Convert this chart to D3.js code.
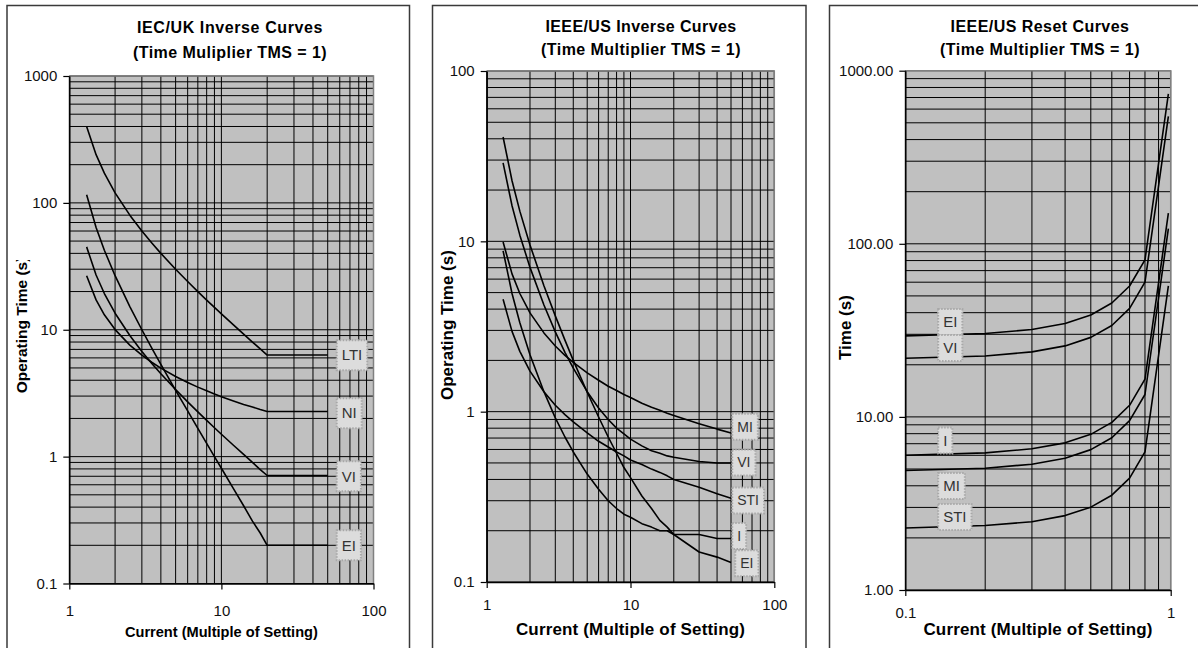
<!DOCTYPE html>
<html><head><meta charset="utf-8">
<script src="https://cdn.jsdelivr.net/npm/d3@7"></script>
<style>html,body{margin:0;padding:0;background:#fff;} svg{display:block;}</style>
</head><body>
<script>
// ---------------- data ----------------
// IEC/UK inverse curves (TMS = 1)
const iecCurrent = [1.3,1.5,1.7,2,2.5,3,3.5,4,5,6,7,8,9,10,12,14,16,18,20,30,40,50];
const iecNames = ["LTI","NI","VI","EI"];
const iecLTI = [400,240,171.4,120,80,60,48,40,30,24,20,17.14,15,13.33,10.91,9.23,8,7.06,6.32,6.32,6.32,6.32];
const iecNI  = [26.61,17.19,13.12,10.03,7.57,6.30,5.52,4.98,4.28,3.84,3.53,3.30,3.12,2.97,2.75,2.58,2.46,2.35,2.27,2.27,2.27,2.27];
const iecVI  = [45,27,19.29,13.5,9,6.75,5.4,4.5,3.38,2.7,2.25,1.93,1.69,1.5,1.23,1.04,0.9,0.79,0.71,0.71,0.71,0.71];
const iecEI  = [115.9,64,42.33,26.67,15.24,10,7.11,5.33,3.33,2.29,1.67,1.27,1.0,0.81,0.56,0.41,0.31,0.25,0.2,0.2,0.2,0.2];

// IEEE/US inverse curves (TMS = 1)
const ieeeCurrent = [1.3,1.5,1.7,2,2.5,3,3.5,4,5,6,7,8,9,10,12,14,16,18,20,30,40,50];
const ieeeNames = ["MI","VI","STI","I","EI"];
const ieeeMI  = [9.90,6.44,4.94,3.80,2.90,2.43,2.14,1.95,1.69,1.53,1.41,1.33,1.26,1.21,1.12,1.06,1.02,0.98,0.95,0.85,0.79,0.75];
const ieeeVI  = [28.91,16.18,10.87,7.03,4.23,2.94,2.23,1.80,1.31,1.05,0.90,0.80,0.74,0.69,0.63,0.59,0.57,0.55,0.54,0.51,0.50,0.50];
const ieeeSTI = [4.57,2.96,2.26,1.73,1.31,1.09,0.96,0.87,0.75,0.67,0.62,0.58,0.55,0.52,0.49,0.46,0.44,0.42,0.40,0.36,0.33,0.31];
const ieeeI   = [8.80,4.94,3.33,2.16,1.31,0.92,0.71,0.58,0.43,0.35,0.30,0.27,0.25,0.24,0.22,0.21,0.20,0.20,0.19,0.19,0.18,0.18];
const ieeeEI  = [40.99,22.68,15.04,9.52,5.49,3.65,2.63,2.00,1.30,0.93,0.71,0.57,0.47,0.41,0.32,0.27,0.23,0.21,0.19,0.15,0.14,0.13];

// IEEE/US reset curves (TMS = 1)
const resetCurrent = [0.1,0.2,0.3,0.4,0.5,0.6,0.7,0.8,0.98];
const resetNames = ["EI","VI","I","MI","STI"];
const resetEI  = [29.39,30.31,31.98,34.64,38.80,45.47,57.06,80.83,734.85];
const resetVI  = [21.82,22.50,23.74,25.71,28.80,33.75,42.35,60.00,545.45];
const resetI   = [6.01,6.20,6.54,7.08,7.93,9.30,11.67,16.53,150.25];
const resetMI  = [4.90,5.05,5.33,5.77,6.47,7.58,9.51,13.47,122.47];
const resetSTI = [2.28,2.36,2.48,2.69,3.01,3.53,4.43,6.28,57.10];

// tick values and labels
const invXTicks = [1,10,100];
const invXTickLabels = ["1","10","100"];
const iecYTicks = [0.1,1,10,100,1000];
const iecYTickLabels = ["0.1","1","10","100","1000"];
const ieeeYTicks = [0.1,1,10,100];
const ieeeYTickLabels = ["0.1","1","10","100"];
const resetXTicks = [0.1,1];
const resetXTickLabels = ["0.1","1"];
const resetYTicks = [1,10,100,1000];
const resetYTickLabels = ["1.00","10.00","100.00","1000.00"];

// ---------------- drawing ----------------
const FONT = "'Liberation Sans', Arial, Helvetica, sans-serif";
const svg = d3.select("body").append("svg")
  .attr("width",1198).attr("height",648)
  .style("font-family",FONT);
const defs = svg.append("defs");

function gridValues(domain){
  const out=[];
  const lo=Math.round(Math.log10(domain[0])), hi=Math.round(Math.log10(domain[1]));
  for(let e=lo;e<hi;e++){ for(let k=1;k<10;k++){ out.push(k*Math.pow(10,e)); } }
  out.push(Math.pow(10,hi));
  return out;
}

function drawPanel(c){
  const g = svg.append("g");
  const [x0,x1] = c.xRange, [y0,y1] = c.yRange;
  const x = d3.scaleLog().domain(c.xDomain).range(c.xRange);
  const y = d3.scaleLog().domain(c.yDomain).range(c.yRange);

  // panel frame
  let fd = `M${c.frame.left},700V${c.frame.top}H${c.frame.right}`;
  if (c.frame.closed) fd += "V700";
  g.append("path").attr("d",fd).attr("fill","none").attr("stroke","#3a3a3a").attr("stroke-width",1.5);

  // plot area
  g.append("rect").attr("x",x0).attr("y",y1).attr("width",x1-x0).attr("height",y0-y1).attr("fill","#c0c0c0");
  g.append("g").selectAll("line").data(gridValues(c.yDomain)).join("line")
    .attr("x1",x0).attr("x2",x1).attr("y1",d=>y(d)).attr("y2",d=>y(d))
    .attr("stroke","#000").attr("stroke-width",1);
  g.append("g").selectAll("line").data(gridValues(c.xDomain)).join("line")
    .attr("y1",y0).attr("y2",y1).attr("x1",d=>x(d)).attr("x2",d=>x(d))
    .attr("stroke","#000").attr("stroke-width",1);
  g.append("path").attr("d",`M${x0},${y1}H${x1}V${y0}`).attr("fill","none")
    .attr("stroke","#808080").attr("stroke-width",1.5);

  // axes
  const gx = g.append("g").attr("transform",`translate(0,${y0})`)
    .call(d3.axisBottom(x).tickValues(c.xTicks).tickFormat((d,i)=>c.xTickLabels[i])
      .tickSize(6).tickSizeOuter(0).tickPadding(c.xPad));
  const gy = g.append("g").attr("transform",`translate(${x0},0)`)
    .call(d3.axisLeft(y).tickValues(c.yTicks).tickFormat((d,i)=>c.yTickLabels[i])
      .tickSize(6).tickSizeOuter(0).tickPadding(6));
  [gx,gy].forEach(a=>{
    a.attr("font-family",FONT).attr("font-size",c.tickFont);
    a.select(".domain").attr("stroke","#000").attr("stroke-width",1.5);
    a.selectAll(".tick line").attr("stroke","#000").attr("stroke-width",1.2);
    a.selectAll(".tick text").attr("fill","#111");
  });

  // curves
  const line = d3.line().x(d=>x(d[0])).y(d=>y(d[1]));
  c.series.forEach(s=>{
    g.append("path").datum(c.xValues.map((v,i)=>[v,s[i]]))
      .attr("d",line).attr("fill","none").attr("stroke","#000")
      .attr("stroke-width",1.6).attr("stroke-linejoin","round");
  });

  // curve labels
  c.labels.forEach(L=>{
    const lg = g.append("g");
    const t = lg.append("text").attr("x",x(L.x)+c.labelPad).attr("y",y(L.y)).attr("dy","0.35em")
      .attr("font-size",c.labelFont).attr("fill","#333").text(L.name);
    const bb = t.node().getBBox();
    lg.insert("rect","text").attr("x",x(L.x)).attr("y",y(L.y)-c.labelH/2)
      .attr("width",bb.width+2*c.labelPad).attr("height",c.labelH)
      .attr("fill","#dcdcdc").attr("stroke","#a8a8a8").attr("stroke-width",2)
      .attr("stroke-dasharray","1.5,1.5");
  });

  // titles
  c.title.forEach((tx,i)=>{
    g.append("text").attr("x",c.titleX).attr("y",c.titleY[i]).attr("text-anchor","middle")
      .attr("font-weight","bold").attr("font-size",16).attr("letter-spacing",c.titleLS[i])
      .attr("fill","#000").text(tx);
  });
  g.append("text").attr("x",(x0+x1)/2).attr("y",c.xTitleY).attr("text-anchor","middle")
    .attr("font-weight","bold").attr("font-size",c.axisFont).attr("letter-spacing",c.axisLS)
    .attr("fill","#000").text(c.xTitle);
  const ytg = g.append("g");
  ytg.append("text").attr("transform",`translate(${c.yTitleX},${c.yTitleY}) rotate(-90)`)
    .attr("text-anchor","start").attr("font-weight","bold").attr("font-size",c.yAxisFont)
    .attr("fill","#000").text(c.yTitle);
  if (c.yTitleClip){
    const id = "yclip" + Math.round(c.yTitleX);
    defs.append("clipPath").attr("id",id).append("rect")
      .attr("x",c.yTitleX-30).attr("y",c.yTitleClip).attr("width",60).attr("height",648-c.yTitleClip);
    ytg.attr("clip-path",`url(#${id})`);
  }
}

drawPanel({
  frame:{left:7,top:5.5,right:409.5,closed:true},
  xDomain:[1,100], xRange:[69.3,373.5], yDomain:[0.1,1000], yRange:[583.5,76],
  xValues:iecCurrent, series:[iecLTI,iecNI,iecVI,iecEI],
  xTicks:invXTicks, xTickLabels:invXTickLabels, yTicks:iecYTicks, yTickLabels:iecYTickLabels,
  xPad:16, tickFont:15,
  labels:[{name:iecNames[0],x:57.3,y:6.3},{name:iecNames[1],x:57.3,y:2.2},{name:iecNames[2],x:57.3,y:0.7},{name:iecNames[3],x:57.3,y:0.2}],
  labelPad:5, labelFont:15, labelH:30,
  title:["IEC/UK Inverse Curves","(Time Muliplier TMS = 1)"], titleX:230, titleY:[33,57.5], titleLS:[0.6,0.45],
  xTitle:"Current (Multiple of Setting)", xTitleY:637, axisFont:14.6, axisLS:0,
  yTitle:"Operating Time (s)", yTitleX:26.5, yTitleY:393.3, yAxisFont:15.5, yTitleClip:260
});

drawPanel({
  frame:{left:432.5,top:5.5,right:806,closed:true},
  xDomain:[1,100], xRange:[486.7,774.3], yDomain:[0.1,100], yRange:[582,71],
  xValues:ieeeCurrent, series:[ieeeMI,ieeeVI,ieeeSTI,ieeeI,ieeeEI],
  xTicks:invXTicks, xTickLabels:invXTickLabels, yTicks:ieeeYTicks, yTickLabels:ieeeYTickLabels,
  xPad:11, tickFont:15,
  labels:[{name:ieeeNames[0],x:51,y:0.816},{name:ieeeNames[1],x:51,y:0.503},{name:ieeeNames[2],x:51,y:0.301},{name:ieeeNames[3],x:51,y:0.186},{name:ieeeNames[4],x:53.5,y:0.129}],
  labelPad:5, labelFont:14, labelH:26,
  title:["IEEE/US Inverse Curves","(Time Multiplier TMS = 1)"], titleX:641, titleY:[31.5,55], titleLS:[0.4,0.45],
  xTitle:"Current (Multiple of Setting)", xTitleY:635, axisFont:17, axisLS:0.15,
  yTitle:"Operating Time (s)", yTitleX:453, yTitleY:400, yAxisFont:17
});

drawPanel({
  frame:{left:829.5,top:5.5,right:1210,closed:false},
  xDomain:[0.1,1], xRange:[905.3,1170.7], yDomain:[1,1000], yRange:[590,70.7],
  xValues:resetCurrent, series:[resetEI,resetVI,resetI,resetMI,resetSTI],
  xTicks:resetXTicks, xTickLabels:resetXTickLabels, yTicks:resetYTicks, yTickLabels:resetYTickLabels,
  xPad:11.5, tickFont:15,
  labels:[{name:resetNames[0],x:0.133,y:35.3},{name:resetNames[1],x:0.133,y:25.0},{name:resetNames[2],x:0.133,y:7.31},{name:resetNames[3],x:0.133,y:3.99},{name:resetNames[4],x:0.133,y:2.64}],
  labelPad:5, labelFont:15, labelH:26,
  title:["IEEE/US Reset Curves","(Time Multiplier TMS = 1)"], titleX:1040, titleY:[31.5,55], titleLS:[0.45,0.45],
  xTitle:"Current (Multiple of Setting)", xTitleY:635, axisFont:17, axisLS:0.15,
  yTitle:"Time (s)", yTitleX:850.7, yTitleY:360, yAxisFont:17
});
</script>
</body></html>
